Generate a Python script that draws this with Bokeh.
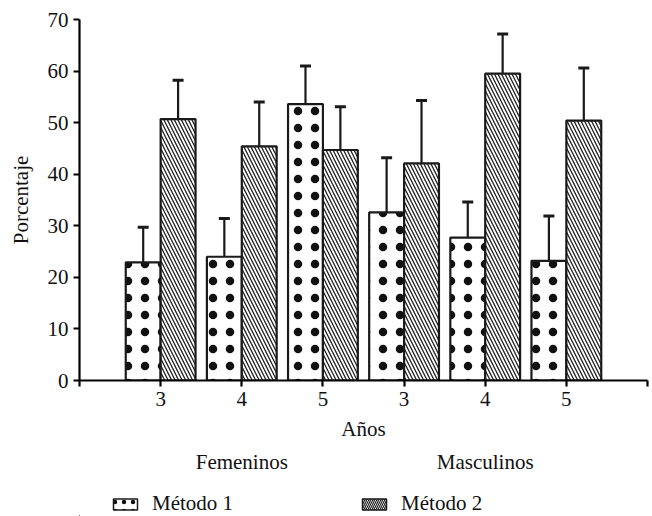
from bokeh.plotting import figure
from bokeh.layouts import column
from bokeh.models import (ColumnDataSource, FixedTicker, LinearAxis, Whisker, TeeHead,
                          Legend, LegendItem, Range1d)
from bokeh.embed import file_html
from bokeh.resources import INLINE

# ---- data ----
ages = ["3", "4", "5", "3", "4", "5"]
groups = ["Femeninos", "Masculinos"]
metodo1 = [22.9, 24.0, 53.6, 32.6, 27.7, 23.2]
metodo1_err = [6.8, 7.4, 7.4, 10.6, 6.9, 8.7]
metodo2 = [50.7, 45.4, 44.7, 42.1, 59.5, 50.4]
metodo2_err = [7.5, 8.6, 8.4, 12.2, 7.7, 10.2]
series_names = ["Método 1", "Método 2"]
y_ticks = [0, 10, 20, 30, 40, 50, 60, 70]

FONT = "Liberation Serif"
FS = "21px"
bw = 0.43
xs = [i + 1 for i in range(len(ages))]

STYLE1 = dict(fill_color="white", line_color="#1a1a1a", line_width=2.2,
              hatch_pattern="dot", hatch_color="#111111", hatch_scale=17, hatch_weight=8)
STYLE2 = dict(fill_color="white", line_color="#1a1a1a", line_width=2.2,
              hatch_pattern="left_diagonal_line", hatch_color="#222222",
              hatch_scale=7, hatch_weight=1.3)
STYLE1_LEG = dict(STYLE1, hatch_scale=9, hatch_weight=5, line_width=1.5)
STYLE2_LEG = dict(STYLE2, hatch_scale=4, hatch_weight=1.2, line_width=1.5)

src1 = ColumnDataSource(dict(x=[x - bw / 2 for x in xs], top=metodo1,
                             up=[v + e for v, e in zip(metodo1, metodo1_err)]))
src2 = ColumnDataSource(dict(x=[x + bw / 2 for x in xs], top=metodo2,
                             up=[v + e for v, e in zip(metodo2, metodo2_err)]))

p = figure(frame_width=568, frame_height=361, output_backend="svg", toolbar_location=None,
           x_range=Range1d(0, len(ages) + 1), y_range=Range1d(0, 70),
           min_border_left=79, min_border_right=5, min_border_top=19,
           min_border_bottom=106)
p.outline_line_color = None
p.grid.visible = False
p.background_fill_color = "white"

p.vbar(x="x", top="top", width=bw, source=src1, **STYLE1)
p.vbar(x="x", top="top", width=bw, source=src2, **STYLE2)

for s in (src1, src2):
    w = Whisker(source=s, base="x", lower="top", upper="up", dimension="height",
                line_color="#1a1a1a", line_width=2.2, lower_head=None,
                upper_head=TeeHead(size=11, line_color="#1a1a1a", line_width=3))
    p.add_layout(w)

# y axis
ya = p.yaxis[0]
ya.ticker = FixedTicker(ticks=y_ticks)
ya.axis_label = "Porcentaje"
ya.axis_label_text_font = FONT
ya.axis_label_text_font_style = "normal"
ya.axis_label_text_font_size = FS
ya.axis_label_text_color = "#111111"
ya.major_label_text_font = FONT
ya.major_label_text_font_size = FS
ya.major_label_text_color = "#111111"
ya.axis_line_width = 2.2
ya.major_tick_line_width = 2.2
ya.major_tick_in = 0
ya.major_tick_out = 6
ya.major_label_standoff = 5
ya.minor_tick_line_color = None
ya.axis_label_standoff = 12

# x axis
xa = p.xaxis[0]
xa.ticker = FixedTicker(ticks=list(range(0, len(ages) + 2)))
xa.major_label_overrides = {i: (ages[i - 1] if 1 <= i <= len(ages) else "")
                            for i in range(0, len(ages) + 2)}
xa.axis_label = "Años"
xa.axis_label_text_font = FONT
xa.axis_label_text_font_style = "normal"
xa.axis_label_text_font_size = FS
xa.axis_label_text_color = "#111111"
xa.major_label_text_font = FONT
xa.major_label_text_font_size = FS
xa.major_label_text_color = "#111111"
xa.axis_line_width = 2.2
xa.major_tick_line_width = 2.2
xa.major_tick_in = 0
xa.major_tick_out = 6
xa.minor_tick_line_color = None
xa.major_label_standoff = 5
xa.axis_label_standoff = 8

# group axis
n = len(ages) // len(groups)
centers = [g * n + (n + 1) / 2 for g in range(len(groups))]
ga = LinearAxis(ticker=FixedTicker(ticks=centers),
                major_label_overrides={c: g for c, g in zip(centers, groups)})
ga.axis_line_color = None
ga.major_tick_line_color = None
ga.major_tick_out = 0
ga.major_tick_in = 0
ga.minor_tick_line_color = None
ga.minor_tick_out = 0
ga.minor_tick_in = 0
ga.major_label_text_font = FONT
ga.major_label_text_font_size = FS
ga.major_label_text_color = "#111111"
ga.major_label_standoff = 6
p.add_layout(ga, "below")

# legend strip (renderers use the real data, but sit outside this strip's view)
lg = figure(width=652, height=30, output_backend="svg", toolbar_location=None,
            x_range=Range1d(1000, 1001), y_range=Range1d(1000, 1001),
            min_border=0, x_axis_type=None, y_axis_type=None)
lg.outline_line_color = None
lg.grid.visible = False
d1 = lg.vbar(x="x", top="top", width=bw, source=src1, **STYLE1_LEG)
d2 = lg.vbar(x="x", top="top", width=bw, source=src2, **STYLE2_LEG)
legend = Legend(items=[LegendItem(label=series_names[0], renderers=[d1]),
                       LegendItem(label=series_names[1], renderers=[d2])],
                orientation="horizontal", location=(31, 0))
legend.label_text_font = FONT
legend.label_text_font_size = FS
legend.label_text_color = "#111111"
legend.glyph_width = 30
legend.glyph_height = 14
legend.spacing = 126
legend.border_line_color = None
legend.background_fill_alpha = 0
legend.margin = 0
legend.padding = 2
legend.label_standoff = 12
lg.add_layout(legend, "center")

layout = column(p, lg, spacing=0)
open("out.html", "w").write(file_html(layout, INLINE))
